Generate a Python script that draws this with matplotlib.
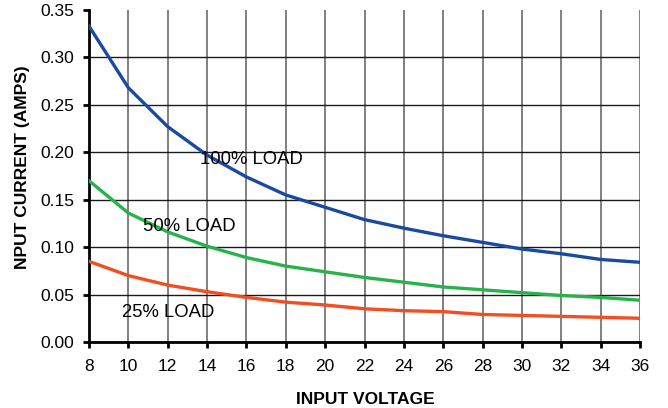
import matplotlib
matplotlib.use("Agg")
import matplotlib.pyplot as plt

voltage = [8, 10, 12, 14, 16, 18, 20, 22, 24, 26, 28, 30, 32, 34, 36]
load_100 = [0.333, 0.268, 0.227, 0.197, 0.174, 0.155, 0.142, 0.129, 0.120, 0.112, 0.105, 0.098, 0.093, 0.087, 0.084]
load_50 = [0.170, 0.136, 0.116, 0.101, 0.089, 0.080, 0.074, 0.068, 0.063, 0.058, 0.055, 0.052, 0.049, 0.047, 0.044]
load_25 = [0.085, 0.070, 0.060, 0.053, 0.047, 0.042, 0.039, 0.035, 0.033, 0.032, 0.029, 0.028, 0.027, 0.026, 0.025]
xticks = list(range(8, 37, 2))
yticks = [0.00, 0.05, 0.10, 0.15, 0.20, 0.25, 0.30, 0.35]

plt.rcParams['font.family'] = ['Liberation Sans', 'DejaVu Sans']

fig = plt.figure(figsize=(6.68, 4.08), dpi=100)
ax = fig.add_axes([0.1332, 0.1618, 0.8250, 0.8137])

ax.set_xlim(8, 36)
ax.set_ylim(0, 0.35)
ax.set_xticks(xticks)
ax.set_yticks(yticks)
ax.set_yticklabels([f"{v:.2f}" for v in yticks])

ax.xaxis.grid(True, color='#808080', linewidth=1.4)
ax.yaxis.grid(True, color='#1a1a1a', linewidth=1.0)
ax.set_axisbelow(True)
ax.yaxis.get_gridlines()[-1].set_visible(False)

for s in ['top', 'right']:
    ax.spines[s].set_visible(False)
for s in ['left', 'bottom']:
    ax.spines[s].set_linewidth(2.0)
    ax.spines[s].set_color('black')
ax.tick_params(axis='both', direction='out', length=4.5, width=2.0, labelsize=12.5)
ax.tick_params(axis='x', pad=8)
ax.tick_params(axis='y', pad=6)

ax.plot(voltage, load_100, color='#1a4aa0', linewidth=2.4, zorder=3)
ax.plot(voltage, load_50, color='#28b24b', linewidth=2.4, zorder=3)
ax.plot(voltage, load_25, color='#f24e23', linewidth=2.4, zorder=3)

ax.text(13.64, 0.192, '100% LOAD', fontsize=13.3, va='center', ha='left', zorder=4)
ax.text(10.74, 0.122, '50% LOAD', fontsize=13.3, va='center', ha='left', zorder=4)
ax.text(9.68, 0.031, '25% LOAD', fontsize=13.3, va='center', ha='left', zorder=4)

fig.text(0.5464, 0.022, 'INPUT VOLTAGE', fontsize=12.5, fontweight='bold', ha='center', va='center')
fig.text(0.033, 0.590, 'NPUT CURRENT (AMPS)', fontsize=12.5, fontweight='bold', ha='center', va='center', rotation=90)

fig.savefig('out.png', dpi=100)
